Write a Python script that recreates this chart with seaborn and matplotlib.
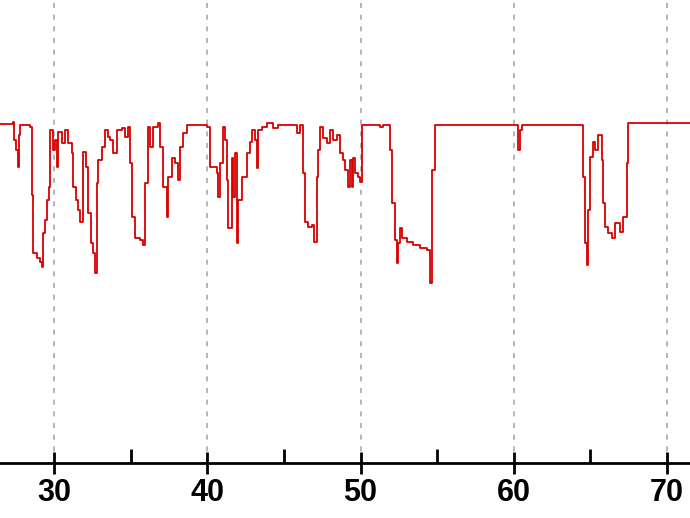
import matplotlib
matplotlib.use("Agg")
import matplotlib.pyplot as plt
import seaborn as sns
import pandas as pd

# time (x) and value (%)
time = [26.15, 27.32, 27.39, 27.52, 27.65, 27.72, 27.78, 28.43, 28.56, 28.63,
        28.89, 29.09, 29.22, 29.28, 29.41, 29.54, 29.67, 29.74, 29.93, 30.07,
        30.20, 30.26, 30.52, 30.72, 30.91, 31.17, 31.24, 31.44, 31.57, 31.70,
        31.89, 32.09, 32.22, 32.41, 32.54, 32.67, 32.81, 32.87, 33.13, 33.33,
        33.52, 33.65, 33.85, 34.11, 34.44, 34.63, 34.83, 34.96, 35.09, 35.29,
        35.61, 35.81, 35.94, 36.13, 36.26, 36.46, 36.79, 36.92, 37.11, 37.37,
        37.44, 37.70, 37.89, 38.09, 38.22, 38.42, 38.68, 39.98, 40.18, 40.64,
        40.70, 40.83, 41.03, 41.16, 41.29, 41.35, 41.61, 41.68, 41.81, 41.94,
        42.01, 42.27, 42.59, 42.79, 42.92, 43.12, 43.25, 43.31, 43.57, 43.90,
        44.29, 44.62, 45.86, 46.05, 46.25, 46.38, 46.57, 46.84, 46.97, 47.16,
        47.23, 47.36, 47.55, 47.81, 48.01, 48.20, 48.47, 48.66, 48.86, 48.99,
        49.18, 49.31, 49.44, 49.51, 49.64, 49.84, 49.97, 50.10, 51.27, 51.47,
        51.92, 52.06, 52.25, 52.38, 52.45, 52.58, 52.71, 53.03, 53.43, 53.88,
        54.34, 54.54, 54.67, 54.86, 60.21, 60.28, 60.41, 60.54, 64.45, 64.52,
        64.65, 64.78, 64.84, 64.97, 65.17, 65.30, 65.50, 65.76, 65.82, 65.95,
        66.15, 66.41, 66.61, 66.93, 67.13, 67.39, 67.46, 72.15]

value = [100.3, 100.9, 95.6, 92.6, 87.6, 97.1, 100.0, 99.4, 79.3, 62.1,
         60.7, 59.5, 58.0, 68.1, 71.9, 77.8, 81.7, 98.5, 92.6, 95.6,
         87.6, 97.9, 94.7, 98.5, 94.7, 91.7, 81.7, 77.8, 74.9, 71.3,
         92.0, 87.6, 74.0, 65.1, 62.1, 56.2, 82.9, 89.7, 93.5, 98.5,
         96.5, 95.6, 91.7, 98.5, 99.1, 96.5, 99.4, 88.8, 72.8, 66.6,
         66.0, 64.5, 82.9, 99.4, 93.5, 99.4, 100.6, 93.5, 81.7, 72.8,
         84.6, 90.2, 88.8, 83.7, 93.5, 97.6, 100.0, 99.4, 87.6, 85.8,
         78.7, 88.8, 99.4, 95.6, 83.7, 69.5, 90.2, 78.7, 91.7, 65.1,
         77.8, 84.6, 91.7, 95.0, 98.5, 95.6, 87.3, 98.5, 99.4, 100.6,
         99.1, 100.0, 97.6, 100.0, 85.8, 71.3, 69.8, 70.4, 65.4, 84.6,
         92.6, 99.4, 96.2, 94.7, 98.5, 95.6, 97.1, 91.7, 89.7, 86.7,
         81.7, 89.7, 81.7, 90.2, 85.8, 84.6, 83.1, 100.0, 99.4, 100.0,
         92.6, 76.9, 66.0, 59.2, 65.1, 69.5, 66.6, 65.4, 64.5, 63.6,
         63.0, 53.3, 86.7, 100.0, 100.0, 92.6, 98.5, 100.0, 100.0, 84.6,
         65.1, 58.6, 74.9, 90.5, 95.0, 92.6, 97.1, 89.7, 76.9, 69.8,
         68.1, 66.6, 71.0, 68.4, 72.8, 88.8, 100.6, 100.0]

major_ticks = [30, 40, 50, 60, 70]
minor_ticks = [35, 45, 55, 65]

df = pd.DataFrame({"time": time, "value": value})

sns.set_style("white")
plt.rcParams["font.family"] = ["Liberation Sans", "DejaVu Sans"]

fig = plt.figure(figsize=(6.9, 5.18), dpi=100)
ax = fig.add_axes([0, 55 / 518, 1, 463 / 518])

sns.lineplot(data=df, x="time", y="value", ax=ax, color="#d80000",
             linewidth=1.3, drawstyle="steps-post", estimator=None, sort=False)

ax.set_xlim(26.476, 71.50)
ax.set_ylim(0, 137)

ax.set_xticks(major_ticks)
ax.set_xticks(minor_ticks, minor=True)
ax.set_xticklabels([str(t) for t in major_ticks], fontsize=22, fontweight="bold")
ax.set_yticks([])

for t in major_ticks:
    ax.axvline(t, color="#a8a8a8", linewidth=1.2, linestyle=(0, (3, 4)), zorder=0)

for s in ["left", "right", "top"]:
    ax.spines[s].set_visible(False)
ax.spines["bottom"].set_linewidth(2)
ax.spines["bottom"].set_color("black")

ax.tick_params(axis="x", which="major", bottom=True, direction="inout",
               length=16, width=2, color="black", pad=3, labelcolor="black")
ax.tick_params(axis="x", which="minor", bottom=True, direction="in",
               length=10, width=2, color="black")
ax.set_xlabel("")
ax.set_ylabel("")

fig.savefig("out.png", dpi=100)
